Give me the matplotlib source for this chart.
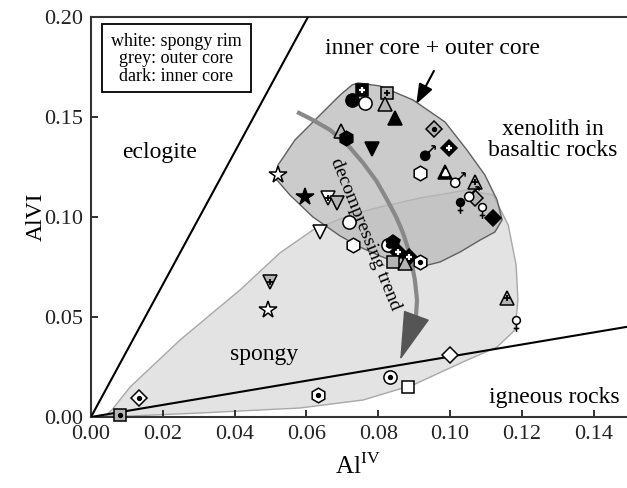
import numpy as np
import matplotlib
matplotlib.use("Agg")
import matplotlib.pyplot as plt
from matplotlib.path import Path
from matplotlib.patches import Polygon, Rectangle

plt.rcParams['font.family'] = ['Liberation Serif', 'DejaVu Serif']
plt.rcParams['mathtext.fontset'] = 'custom'
plt.rcParams['mathtext.rm'] = 'Liberation Serif'

# field boundaries (AlIV vs AlVI)
eclogite_slope = 3.31
igneous_slope = 0.302

# outline of the spongy rim field
spongy_x = [0.0058, 0.0109, 0.0248, 0.0415, 0.0526, 0.0618, 0.0721, 0.0805, 0.0916, 0.1047,
            0.1120, 0.1162, 0.1184, 0.1189, 0.1181, 0.1131, 0.1036, 0.0897, 0.0758, 0.0582,
            0.0304, 0.0109, 0.0039]
spongy_y = [0.0035, 0.0150, 0.0385, 0.0635, 0.0820, 0.0935, 0.1010, 0.1050, 0.1095, 0.1135,
            0.1110, 0.0960, 0.0760, 0.0585, 0.0435, 0.0350, 0.0275, 0.0160, 0.0085, 0.0045,
            0.0020, 0.0005, 0.0005]

# outline of the inner + outer core field
core_x = [0.0744, 0.0805, 0.0897, 0.0986, 0.1047, 0.1097, 0.1131, 0.1145, 0.1125, 0.1084,
          0.1028, 0.0972, 0.0916, 0.0861, 0.0805, 0.0749, 0.0694, 0.0618, 0.0554, 0.0513,
          0.0521, 0.0568, 0.0638, 0.0694, 0.0727]
core_y = [0.1670, 0.1655, 0.1585, 0.1475, 0.1335, 0.1210, 0.1085, 0.0985, 0.0925, 0.0885,
          0.0825, 0.0775, 0.0750, 0.0765, 0.0805, 0.0850, 0.0905, 0.1000, 0.1110, 0.1195,
          0.1260, 0.1385, 0.1510, 0.1610, 0.1660]

# decompression trend
trend_x = [0.0574, 0.0618, 0.0666, 0.0715, 0.0758, 0.0795, 0.0825, 0.0850, 0.0869, 0.0889,
           0.0902, 0.0908, 0.0905]
trend_y = [0.1525, 0.1485, 0.1435, 0.1360, 0.1270, 0.1180, 0.1085, 0.1000, 0.0920, 0.0810,
           0.0685, 0.0585, 0.0500]
trend_tip = (0.0861, 0.0285)

# clinopyroxene analyses
pt_x = [0.0727, 0.0755, 0.0763, 0.0825, 0.0819, 0.0847, 0.0696, 0.0710, 0.0783, 0.0955,
        0.0936, 0.0997, 0.0916, 0.0986, 0.1019, 0.1028, 0.1070, 0.1070, 0.1057, 0.1089,
        0.1120, 0.0596, 0.0660, 0.0685, 0.0521, 0.0638, 0.0719, 0.0730, 0.0827, 0.0841,
        0.0855, 0.0886, 0.0916, 0.0841, 0.0875, 0.0499, 0.0493, 0.1159, 0.1184, 0.1000,
        0.0833, 0.0883, 0.0632, 0.0134, 0.0081]
pt_y = [0.1585, 0.1635, 0.1570, 0.1620, 0.1565, 0.1495, 0.1430, 0.1395, 0.1340, 0.1440,
        0.1320, 0.1345, 0.1220, 0.1225, 0.1185, 0.1060, 0.1175, 0.1095, 0.1115, 0.1035,
        0.0995, 0.1100, 0.1095, 0.1070, 0.1210, 0.0925, 0.0975, 0.0860, 0.0860, 0.0875,
        0.0825, 0.0800, 0.0775, 0.0775, 0.0770, 0.0675, 0.0535, 0.0595, 0.0470, 0.0310,
        0.0200, 0.0150, 0.0110, 0.0095, 0.0010]
pt_shape = ['o', 's', 'o', 's', '^', '^', '^', 'h', 'v', 'D',
            'male', 'D', 'h', '^', 'male', 'female', '^', 'D', 'male', 'female',
            'D', '*', 'v', 'v', '*', 'v', 'o', 'h', 'o', 'p',
            'D', 'D', 'h', 's', '^', 'v', '*', '^', 'female', 'D',
            'o', 's', 'h', 'D', 's']
pt_zone = ['dark', 'dark', 'white', 'grey', 'grey', 'dark', 'grey', 'dark', 'dark', 'grey',
           'dark', 'dark', 'white', 'dark', 'white', 'dark', 'grey', 'grey', 'white', 'white',
           'dark', 'dark', 'white', 'grey', 'white', 'white', 'white', 'white', 'white', 'dark',
           'dark', 'dark', 'white', 'grey', 'grey', 'grey', 'white', 'grey', 'white', 'white',
           'white', 'white', 'white', 'white', 'grey']
pt_inner = ['', 'w+', '', '+', '', '', '', '', '', '.',
            '', 'w+', '', 'tri', '', '', '+', '', '', '',
            '', '', '+', '', '', '', '', '', '.', '',
            'w+', 'w+', '.', '', '', '+', '', '+', '', '',
            '.', '', '.', '.', '.']

zone_color = {'white': 'white', 'grey': '#b4b4b4', 'dark': 'black'}


def male_marker():
    ring = Path.circle((-0.15, -0.15), 0.3)
    segs = [[(0.07, 0.07), (0.5, 0.5)], [(0.5, 0.5), (0.25, 0.5)], [(0.5, 0.5), (0.5, 0.25)]]
    parts = [ring] + [Path(s, [Path.MOVETO, Path.LINETO]) for s in segs]
    return Path.make_compound_path(*parts)


def female_marker():
    ring = Path.circle((0.0, 0.22), 0.28)
    segs = [[(0.0, -0.06), (0.0, -0.6)], [(-0.2, -0.36), (0.2, -0.36)]]
    parts = [ring] + [Path(s, [Path.MOVETO, Path.LINETO]) for s in segs]
    return Path.make_compound_path(*parts)


shape_marker = {'male': male_marker(), 'female': female_marker()}
shape_size = {'o': 9.5, 's': 9, '^': 10, 'v': 10, 'D': 8.5, 'h': 10.5, 'p': 10,
              '*': 13, 'male': 11, 'female': 12}

fig = plt.figure(figsize=(6.27, 4.88), dpi=100)
ax = fig.add_axes([0.1451, 0.1455, 0.855, 0.8197])
ax.set_xlim(0, 0.1493)
ax.set_ylim(0, 0.20)

# fields
ax.add_patch(Polygon(np.column_stack([spongy_x, spongy_y]), closed=True,
                     facecolor='#e3e3e3', edgecolor='#a8a8a8', lw=1.0, zorder=1))
ax.add_patch(Polygon(np.column_stack([core_x, core_y]), closed=True,
                     facecolor='#b8b8b8', alpha=0.72, edgecolor='none', zorder=2))
ax.add_patch(Polygon(np.column_stack([core_x, core_y]), closed=True,
                     facecolor='none', edgecolor='#606060', lw=1.0, zorder=2))

ax.axline((0, 0), slope=eclogite_slope, color='black', lw=1.5, zorder=3)
ax.axline((0, 0), slope=igneous_slope, color='black', lw=1.5, zorder=3)

# decompression trend arrow
ax.plot(trend_x, trend_y, color='#888888', lw=3, solid_capstyle='butt', zorder=3)
ax.annotate('', xy=trend_tip, xytext=(trend_x[-1], trend_y[-1]),
            arrowprops=dict(arrowstyle='-|>,head_length=1.6,head_width=0.45',
                            color='#555555', lw=1, shrinkA=0, shrinkB=0,
                            mutation_scale=20), zorder=4)
ax.text(0.0763, 0.0915, 'decompressing trend', fontsize=14, rotation=-68,
        rotation_mode='anchor', ha='center', va='center', zorder=8)

# analyses
for x, y, sh, zn, inn in zip(pt_x, pt_y, pt_shape, pt_zone, pt_inner):
    m = shape_marker.get(sh, sh)
    ms = shape_size[sh]
    face = zone_color[zn]
    ax.plot(x, y, marker=m, ms=ms, mfc=face, mec='black', mew=1.1,
            ls='none', zorder=5, clip_on=False)
    if inn == '+':
        ax.plot(x, y, marker='+', ms=5, mec='black', mew=1.3, zorder=6, clip_on=False)
    elif inn == 'w+':
        ax.plot(x, y, marker='+', ms=5, mec='white', mew=1.6, zorder=6, clip_on=False)
    elif inn == '.':
        ax.plot(x, y, marker='o', ms=2.8, mfc='black', mec='black', zorder=6, clip_on=False)
    elif inn == 'tri':
        ax.plot(x, y, marker='^', ms=5, mfc='white', mec='white', zorder=6, clip_on=False)

# field names
lab = dict(fontsize=17, ha='center', va='center', zorder=7)
ax.text(0.0192, 0.1320, 'eclogite', **lab)
ax.text(0.0950, 0.1840, 'inner core + outer core', **lab)
ax.text(0.1287, 0.1385, 'xenolith in\nbasaltic rocks', linespacing=1.05, **lab)
ax.text(0.0482, 0.0310, 'spongy', **lab)
ax.text(0.1290, 0.0095, 'igneous rocks', **lab)

ax.annotate('', xy=(0.0906, 0.1565), xytext=(0.0955, 0.1730),
            arrowprops=dict(arrowstyle='-|>,head_length=0.8,head_width=0.3',
                            color='black', lw=1.5, shrinkA=0, shrinkB=0,
                            mutation_scale=15), zorder=7)

# key box
ax.add_patch(Rectangle((0.0031, 0.1625), 0.0415, 0.034, facecolor='white',
                       edgecolor='black', lw=1.3, zorder=7))
ax.text(0.0238, 0.1790, 'white: spongy rim\ngrey: outer core\ndark: inner core',
        fontsize=13, ha='center', va='center', linespacing=1.05, zorder=8)

# axes styling
for side in ['left', 'bottom', 'top']:
    ax.spines[side].set_linewidth(1.5)
    ax.spines[side].set_color('#333333')
ax.spines['right'].set_visible(False)
ax.set_xticks([0.00, 0.02, 0.04, 0.06, 0.08, 0.10, 0.12, 0.14])
ax.set_yticks([0.00, 0.05, 0.10, 0.15, 0.20])
ax.xaxis.set_major_formatter(matplotlib.ticker.FormatStrFormatter('%.2f'))
ax.yaxis.set_major_formatter(matplotlib.ticker.FormatStrFormatter('%.2f'))
ax.tick_params(direction='in', length=5, width=1.3, labelsize=16, pad=6,
               colors='#222222')

fig.text(36 / 627, 1 - 217 / 488, 'AlVI', rotation=90, fontsize=17,
         ha='center', va='center')
fig.text(358 / 627, 1 - 466 / 488, r'Al$^{\mathrm{IV}}$', fontsize=18,
         ha='center', va='center')

fig.savefig('out.png', dpi=100)
